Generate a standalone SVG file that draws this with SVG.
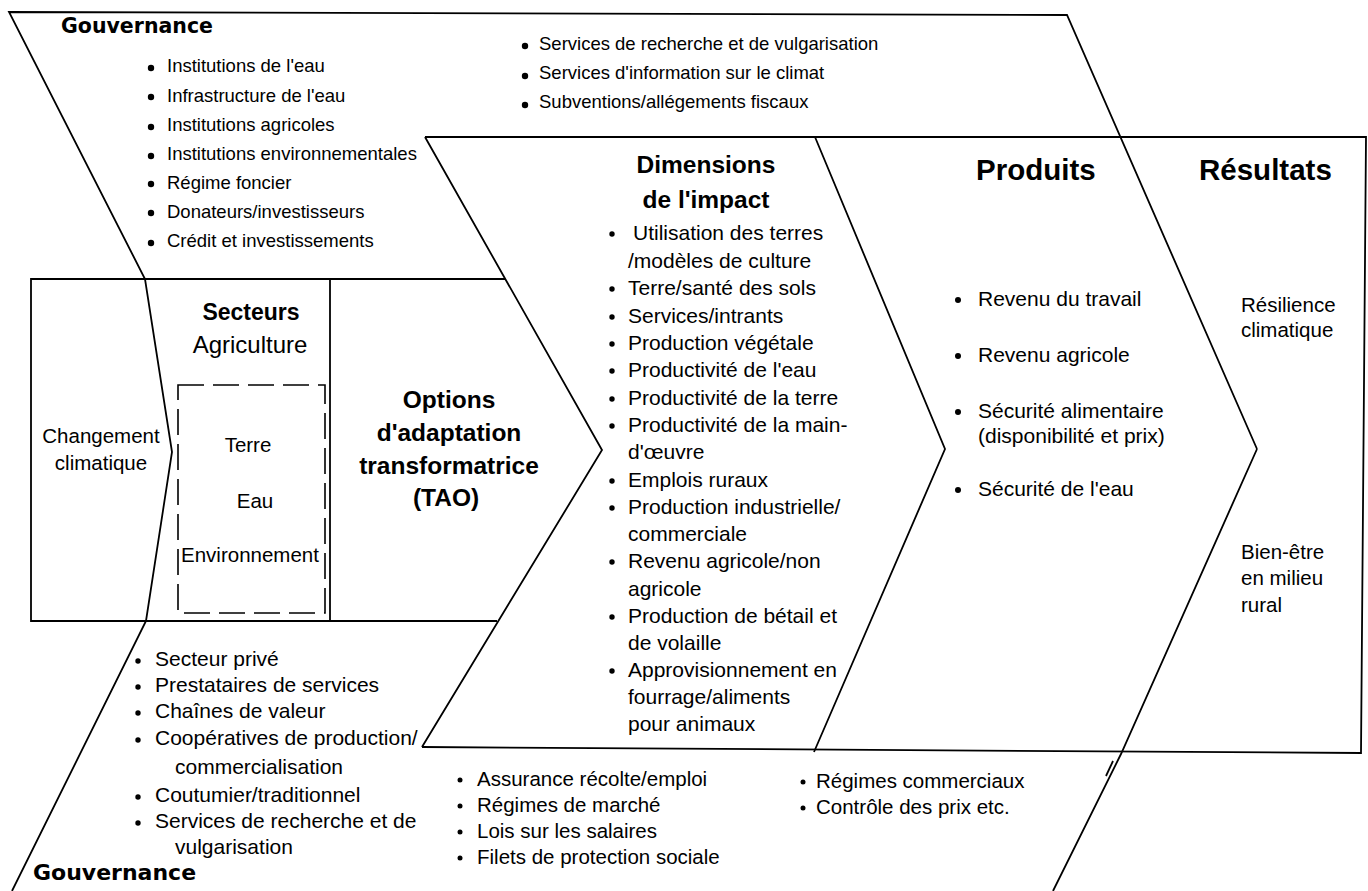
<svg xmlns="http://www.w3.org/2000/svg" width="1368" height="891" viewBox="0 0 1368 891">
<style>
text{font-family:"Liberation Sans",Arial,sans-serif;fill:#000}
.s18{font-size:18.5px}
.s20{font-size:20.5px}
.s21{font-size:21px}
.h23{font-size:23px;font-weight:bold}
.h24{font-size:24.5px;font-weight:bold}
.h30{font-size:29.5px;font-weight:bold}
.gov{font-family:"DejaVu Sans",sans-serif;font-weight:bold}
.mid{text-anchor:middle}
.ln{fill:none;stroke:#000;stroke-width:1.8;stroke-linejoin:miter}
.dash{fill:none;stroke:#000;stroke-width:1.6;stroke-dasharray:26 9}
circle{fill:#000}
</style>
<rect width="1368" height="891" fill="#fff"/>
<g id="connectors">
<path class="ln" d="M1257,449 L1067,15 L9,12 L145,279 L172,452 L146,621 L12,891"/>
<path class="ln" d="M1257,449 L1121,754 L1053,891"/>
<path class="ln" d="M505,279 L31,279 L31,621 L497,621"/>
<path class="ln" d="M330,279 L330,621"/>
<path class="ln" d="M425,137 L602,450 L422,747"/>
<path class="ln" d="M425,137 L1366,137 L1361,753 L422,747"/>
<path class="ln" d="M815,137 L945,449 L814,752"/>
<path class="ln" d="M1113,761 L1106,776"/>
</g>
<g id="gov-top">
<text class="gov" x="61" y="33" style="font-size:20.5px">Gouvernance</text>
<g class="s18">
<circle cx="151" cy="68" r="3.2"/><text x="167" y="72">Institutions de l'eau</text>
<circle cx="151" cy="97" r="3.2"/><text x="167" y="102">Infrastructure de l'eau</text>
<circle cx="151" cy="127" r="3.2"/><text x="167" y="131">Institutions agricoles</text>
<circle cx="151" cy="156" r="3.2"/><text x="167" y="160">Institutions environnementales</text>
<circle cx="151" cy="184" r="3.2"/><text x="167" y="189">Régime foncier</text>
<circle cx="151" cy="213" r="3.2"/><text x="167" y="218">Donateurs/investisseurs</text>
<circle cx="151" cy="243" r="3.2"/><text x="167" y="247">Crédit et investissements</text>
<circle cx="525" cy="46" r="3.2"/><text x="539" y="50">Services de recherche et de vulgarisation</text>
<circle cx="525" cy="76" r="3.2"/><text x="539" y="79">Services d'information sur le climat</text>
<circle cx="525" cy="105" r="3.2"/><text x="539" y="108">Subventions/allégements fiscaux</text>
</g>
</g>
<g id="climate">
<text class="s20 mid" x="101" y="443">Changement</text>
<text class="s20 mid" x="101" y="470">climatique</text>
</g>
<g id="sectors">
<text class="h23 mid" x="251" y="320">Secteurs</text>
<text class="mid" x="250" y="353" style="font-size:24px">Agriculture</text>
<rect class="dash" x="178" y="385" width="147" height="228"/>
<text class="s20 mid" x="248" y="452">Terre</text>
<text class="s20 mid" x="255" y="508">Eau</text>
<text class="s20 mid" x="250" y="562">Environnement</text>
</g>
<g id="options">
<text class="h24 mid" x="449" y="408">Options</text>
<text class="h24 mid" x="449" y="441">d'adaptation</text>
<text class="h24 mid" x="449" y="474">transformatrice</text>
<text class="h24 mid" x="446" y="506">(TAO)</text>
</g>
<g id="dimensions">
<text class="h24 mid" x="706" y="173">Dimensions</text>
<text class="h24 mid" x="706" y="208">de l'impact</text>
<g class="s21">
<circle cx="612" cy="234" r="2.7"/><text x="633" y="240">Utilisation des terres</text>
<text x="628" y="268">/modèles de culture</text>
<circle cx="612" cy="289" r="2.7"/><text x="628" y="295">Terre/santé des sols</text>
<circle cx="612" cy="317" r="2.7"/><text x="628" y="323">Services/intrants</text>
<circle cx="612" cy="344" r="2.7"/><text x="628" y="350">Production végétale</text>
<circle cx="612" cy="371" r="2.7"/><text x="628" y="377">Productivité de l'eau</text>
<circle cx="612" cy="399" r="2.7"/><text x="628" y="405">Productivité de la terre</text>
<circle cx="612" cy="426" r="2.7"/><text x="628" y="432">Productivité de la main-</text>
<text x="628" y="459">d'œuvre</text>
<circle cx="612" cy="481" r="2.7"/><text x="628" y="487">Emplois ruraux</text>
<circle cx="612" cy="508" r="2.7"/><text x="628" y="514">Production industrielle/</text>
<text x="628" y="541">commerciale</text>
<circle cx="612" cy="562" r="2.7"/><text x="628" y="568">Revenu agricole/non</text>
<text x="628" y="596">agricole</text>
<circle cx="612" cy="617" r="2.7"/><text x="628" y="623">Production de bétail et</text>
<text x="628" y="650">de volaille</text>
<circle cx="612" cy="671" r="2.7"/><text x="628" y="677">Approvisionnement en</text>
<text x="628" y="704">fourrage/aliments</text>
<text x="628" y="731">pour animaux</text>
</g>
</g>
<g id="produits">
<text class="h30" x="976" y="180">Produits</text>
<g class="s21">
<circle cx="958" cy="300" r="3"/><text x="978" y="306">Revenu du travail</text>
<circle cx="958" cy="356" r="3"/><text x="978" y="362">Revenu agricole</text>
<circle cx="958" cy="412" r="3"/><text x="978" y="418">Sécurité alimentaire</text>
<text x="978" y="443">(disponibilité et prix)</text>
<circle cx="958" cy="490" r="3"/><text x="978" y="496">Sécurité de l'eau</text>
</g>
</g>
<g id="resultats">
<text class="h30" x="1199" y="180">Résultats</text>
<g class="s20">
<text x="1241" y="312">Résilience</text>
<text x="1241" y="337">climatique</text>
<text x="1241" y="559">Bien-être</text>
<text x="1241" y="585">en milieu</text>
<text x="1241" y="612">rural</text>
</g>
</g>
<g id="gov-bottom">
<g class="s21">
<circle cx="138" cy="661" r="2.7"/><text x="155" y="666">Secteur privé</text>
<circle cx="138" cy="687" r="2.7"/><text x="155" y="692">Prestataires de services</text>
<circle cx="138" cy="713" r="2.7"/><text x="155" y="718">Chaînes de valeur</text>
<circle cx="138" cy="740" r="2.7"/><text x="155" y="745">Coopératives de production/</text>
<text x="175" y="774">commercialisation</text>
<circle cx="138" cy="797" r="2.7"/><text x="155" y="802">Coutumier/traditionnel</text>
<circle cx="138" cy="823" r="2.7"/><text x="155" y="828">Services de recherche et de</text>
<text x="175" y="854">vulgarisation</text>
</g>
<text class="gov" x="33" y="880" style="font-size:22px">Gouvernance</text>
</g>
<g id="policies">
<g class="s20">
<circle cx="460" cy="780" r="2.5"/><text x="477" y="786">Assurance récolte/emploi</text>
<circle cx="460" cy="806" r="2.5"/><text x="477" y="812">Régimes de marché</text>
<circle cx="460" cy="832" r="2.5"/><text x="477" y="838">Lois sur les salaires</text>
<circle cx="460" cy="858" r="2.5"/><text x="477" y="864">Filets de protection sociale</text>
<circle cx="803" cy="782" r="2.5"/><text x="816" y="788">Régimes commerciaux</text>
<circle cx="803" cy="808" r="2.5"/><text x="816" y="814">Contrôle des prix etc.</text>
</g>
</g>
</svg>
